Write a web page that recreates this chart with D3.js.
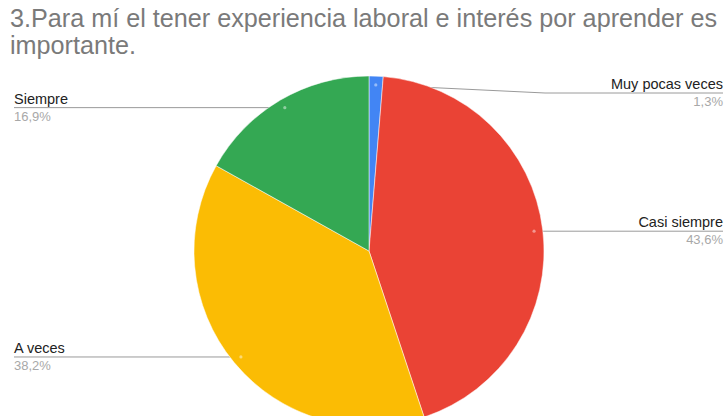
<!DOCTYPE html>
<html>
<head>
<meta charset="utf-8">
<script src="https://cdn.jsdelivr.net/npm/d3@7"></script>
<style>
  html, body { margin: 0; padding: 0; background: #fff; }
  svg { display: block; }
</style>
</head>
<body>
<svg id="chart" width="727" height="416"></svg>
<script>
// Survey answers and their shares (%)
const categories = ["Muy pocas veces", "Casi siempre", "A veces", "Siempre"];
const values = [1.3, 43.6, 38.2, 16.9];
const colors = ["#4285f4", "#ea4335", "#fbbc04", "#34a853"];
const titleLines = [
  "3.Para mí el tener experiencia laboral e interés por aprender es",
  "importante."
];

const W = 727, H = 416;
const cx = 369, cy = 251, R = 175;
const svg = d3.select("#chart");
const font = "'Liberation Sans', Arial, sans-serif";

// Title
svg.append("text")
  .attr("x", 10).attr("y", 27)
  .attr("font-family", font).attr("font-size", 25.2)
  .attr("fill", "#7a7a7a")
  .selectAll("tspan").data(titleLines).join("tspan")
  .attr("x", 10).attr("dy", (d, i) => i === 0 ? 0 : 27)
  .text(d => d);

const data = categories.map((c, i) => ({ name: c, value: values[i], color: colors[i] }));
const pie = d3.pie().sort(null).value(d => d.value).startAngle(0).endAngle(2 * Math.PI);
const arcs = pie(data);
const arc = d3.arc().innerRadius(0).outerRadius(R);
const anchorArc = d3.arc().innerRadius(R * 0.95).outerRadius(R * 0.95);

const fmt = v => d3.format(".1f")(v).replace(".", ",") + "%";

// Label layout: side of the chart and optional fixed leader height
const sides = ["right", "right", "left", "left"];
const leaderY = [93, null, null, null];
const leaderBendX = [545, null, null, null];

const labels = arcs.map((a, i) => {
  const c = anchorArc.centroid(a);
  const ax = cx + c[0], ay = cy + c[1];
  const ly = leaderY[i] == null ? ay : leaderY[i];
  return { a, i, ax, ay, ly, side: sides[i] };
});

// Leader lines sit underneath the slices
const lineG = svg.append("g");
labels.forEach(l => {
  const endX = l.side === "right" ? 723 : 14;
  let pts;
  if (leaderBendX[l.i] != null) {
    pts = [[l.ax, l.ay], [leaderBendX[l.i], l.ly], [endX, l.ly]];
  } else {
    pts = [[l.ax, l.ly], [endX, l.ly]];
  }
  lineG.append("path")
    .attr("d", d3.line()(pts))
    .attr("fill", "none")
    .attr("stroke", "#9a9a9a")
    .attr("stroke-width", 1);
});

// Slices
const pieG = svg.append("g").attr("transform", `translate(${cx},${cy})`);
pieG.selectAll("path").data(arcs).join("path")
  .attr("d", arc)
  .attr("fill", d => d.data.color)
  .attr("stroke", "#ffffff")
  .attr("stroke-width", 0.5);

// Anchor dots on the slices
svg.append("g").selectAll("circle").data(labels).join("circle")
  .attr("cx", d => d.ax).attr("cy", d => d.ay)
  .attr("r", 1.6)
  .attr("fill", "#ffffff").attr("fill-opacity", 0.45);

// Label texts: name above the leader, percentage below
const textG = svg.append("g").attr("font-family", font);
labels.forEach(l => {
  const x = l.side === "right" ? 723 : 14;
  const anchor = l.side === "right" ? "end" : "start";
  textG.append("text")
    .attr("x", x).attr("y", l.ly - 4)
    .attr("text-anchor", anchor)
    .attr("font-size", 14.5)
    .attr("fill", "#222222")
    .text(l.a.data.name);
  textG.append("text")
    .attr("x", x).attr("y", l.ly + 13)
    .attr("text-anchor", anchor)
    .attr("font-size", 13)
    .attr("fill", "#a8a8a8")
    .text(fmt(l.a.data.value));
});
</script>
</body>
</html>
